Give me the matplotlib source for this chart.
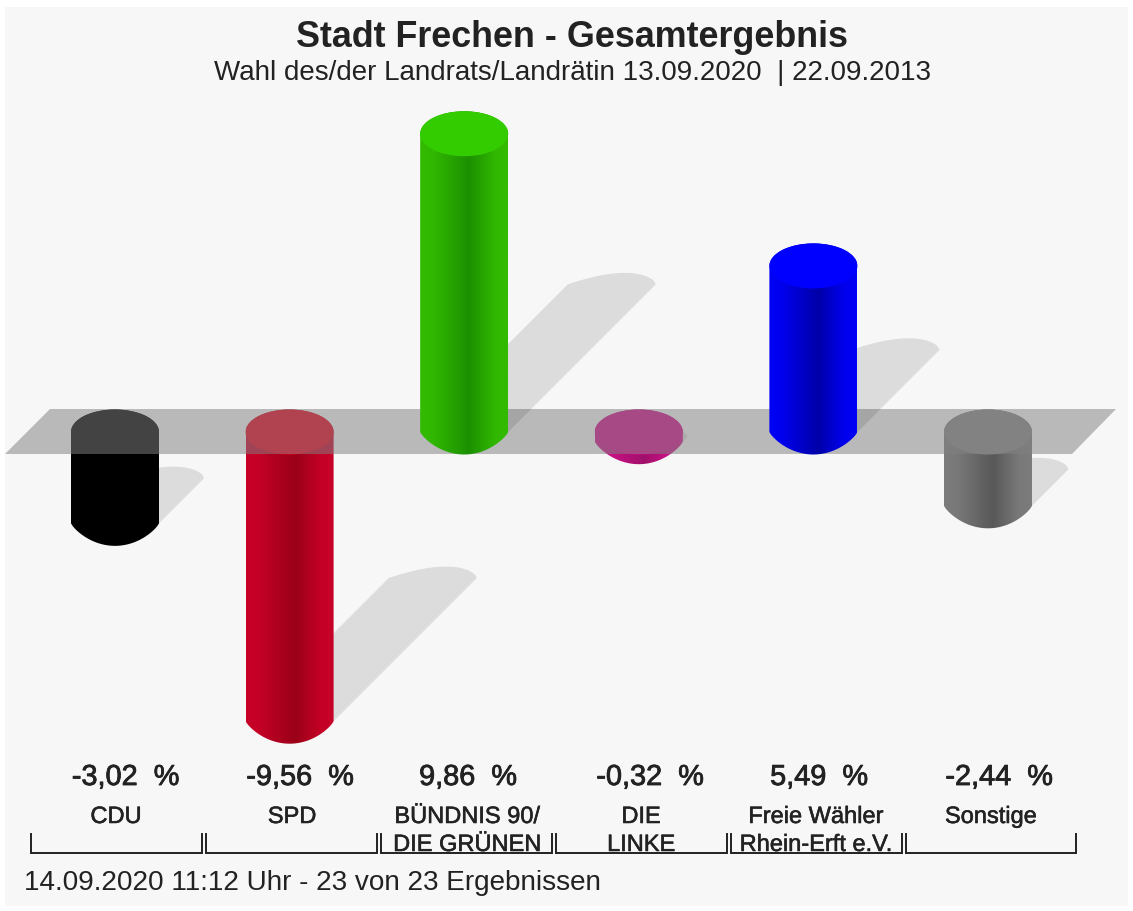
import numpy as np
import matplotlib
matplotlib.use('Agg')
import matplotlib.pyplot as plt
import matplotlib.patheffects as pe
from matplotlib.patches import Polygon, Rectangle, Ellipse

parteien = ['CDU', 'SPD', 'BÜNDNIS 90/\nDIE GRÜNEN', 'DIE\nLINKE', 'Freie Wähler\nRhein-Erft e.V.', 'Sonstige']
werte = [-3.02, -9.56, 9.86, -0.32, 5.49, -2.44]

farbe_rand = ['#000000', '#c80028', '#33bb00', '#d0108a', '#0000f5', '#7c7c7c']
farbe_mitte = ['#000000', '#9a0018', '#1c9000', '#a0106a', '#0000a8', '#585858']
farbe_deckel = ['#000000', '#e40019', '#33cc00', '#d20c89', '#0000ff', '#858585']

titel = 'Stadt Frechen - Gesamtergebnis'
untertitel = 'Wahl des/der Landrats/Landrätin 13.09.2020  | 22.09.2013'
fusszeile = '14.09.2020 11:12 Uhr - 23 von 23 Ergebnissen'

plt.rcParams['font.family'] = ['Liberation Sans', 'DejaVu Sans']

W, H = 1133, 911
# Pixel je Einheit: x = eine Partei, y = ein Prozentpunkt
X0, DX = 115.0, 174.6
Y0, DY = 432.0, 30.25


def xp(px):
    return (px - X0) / DX


def yp(px):
    return (Y0 - px) / DY


fig = plt.figure(figsize=(W / 100, H / 100), dpi=100, facecolor='white')
ax = fig.add_axes([0, 0, 1, 1])
ax.set_xlim(xp(0), xp(W))
ax.set_ylim(yp(H), yp(0))
ax.axis('off')

a = 44 / DX
ry = 22.5 / DY
schatten_ry = 11.5 / DY
faktor = 0.495


def saeule_form(cx, oben, unten):
    th = np.linspace(np.pi, 0, 60)
    t = np.linspace(1, -1, 60)
    o = np.column_stack([cx + a * np.cos(th), oben + ry * np.sin(th)])
    u = np.column_stack([cx + a * t, unten - ry * (1 - t ** 2) ** 0.82])
    return np.vstack([o, u])


def zeichne_schatten(i, v, z):
    unten = min(v, 0)
    sx = faktor * abs(v) * DY / DX
    sy = faktor * abs(v)
    u = np.linspace(0, 1, 50)
    t = 2 * u ** 1.6 - 1
    kappe = np.column_stack([i + sx - a + 2 * a * u, unten + sy + schatten_ry * (1 - t ** 2) ** 0.6])
    pts = np.vstack([[[i - a, unten]], kappe, [[i + a, unten]]])
    ax.add_patch(Polygon(pts, closed=True, fc='black', ec='none', alpha=0.105, zorder=z))


def zeichne_saeule(i, v, z):
    oben, unten = max(v, 0), min(v, 0)
    rand = np.array(matplotlib.colors.to_rgb(farbe_rand[i]))
    mitte = np.array(matplotlib.colors.to_rgb(farbe_mitte[i]))
    n = 88
    pos = np.linspace(0, 1, n)
    anteil = np.interp(pos, [0, 0.15, 0.56, 0.85, 1], [0, 0.1, 1, 0.1, 0])
    verlauf = rand + (mitte - rand) * anteil[:, None]
    bild = ax.imshow(verlauf[None, :, :], extent=[i - a, i + a, unten - 2 * ry, oben + 2 * ry],
                     aspect='auto', interpolation='bilinear', zorder=z)
    form = Polygon(saeule_form(i, oben, unten), closed=True, fc='none', ec='none', transform=ax.transData)
    ax.add_patch(form)
    bild.set_clip_path(form)
    ax.add_patch(Ellipse((i, oben), 2 * a, 2 * ry, fc=farbe_deckel[i], ec='none', zorder=z + 0.1))


# Hintergrund
ax.add_patch(Rectangle((xp(5), yp(906)), xp(1128) - xp(5), yp(7) - yp(906), fc='#f7f7f7', ec='none', zorder=0))

for i, v in enumerate(werte):
    if v < 0:
        zeichne_schatten(i, v, 1)
for i, v in enumerate(werte):
    if v < 0:
        zeichne_saeule(i, v, 2)

# Ebene bei 0
ebene = [[xp(50), yp(409)], [xp(1116), yp(409)], [xp(1072), yp(454)], [xp(5), yp(454)]]
ax.add_patch(Polygon(ebene, closed=True, fc='#818181', ec='none', alpha=0.526, zorder=3))

for i, v in enumerate(werte):
    if v > 0:
        zeichne_schatten(i, v, 4)
for i, v in enumerate(werte):
    if v > 0:
        zeichne_saeule(i, v, 5)

ax.set_xlim(xp(0), xp(W))
ax.set_ylim(yp(H), yp(0))

textfarbe = '#222222'
kraeftig = [pe.withStroke(linewidth=0.6, foreground=textfarbe)]
ax.text(xp(572), yp(47), titel, ha='center', va='baseline', fontsize=25.8, fontweight='bold', color=textfarbe, zorder=8)
ax.text(xp(573), yp(80), untertitel, ha='center', va='baseline', fontsize=20, color=textfarbe, zorder=8)
ax.text(xp(24), yp(890), fusszeile, ha='left', va='baseline', fontsize=20.1, color=textfarbe, zorder=8)

wert_x = [125.5, 300, 468, 650, 819, 999]
name_x = [116, 292, 467, 641, 816, 991]
for i, v in enumerate(werte):
    txt = f'{v:.2f}'.replace('.', ',') + '  %'
    ax.text(xp(wert_x[i]), yp(785), txt, ha='center', va='baseline', fontsize=20.8,
            color=textfarbe, zorder=8, path_effects=kraeftig)
    for k, zeile in enumerate(parteien[i].split('\n')):
        ax.text(xp(name_x[i]), yp(823 + 28 * k), zeile, ha='center', va='baseline', fontsize=17,
                color=textfarbe, zorder=8, path_effects=[pe.withStroke(linewidth=0.4, foreground=textfarbe)])

# Klammern unter den Parteien
klammer_l = [31, 206, 381, 556, 731, 906]
klammer_r = [202, 377, 552, 727, 902, 1076]
for l, r in zip(klammer_l, klammer_r):
    ax.plot([xp(l), xp(l), xp(r), xp(r)], [yp(834), yp(853), yp(853), yp(834)], color='#222222', lw=1.4,
            solid_joinstyle='miter', zorder=7)

fig.savefig('out.png', dpi=100)
